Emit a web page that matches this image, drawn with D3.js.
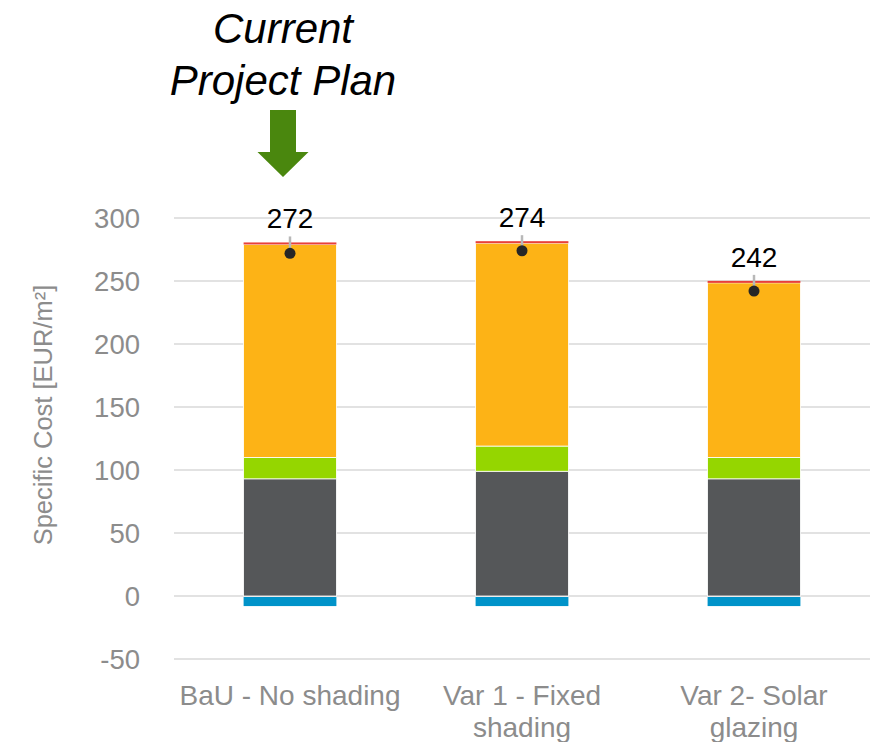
<!DOCTYPE html>
<html>
<head>
<meta charset="utf-8">
<script src="https://cdn.jsdelivr.net/npm/d3@7"></script>
<style>
  html, body { margin: 0; padding: 0; background: #ffffff; }
  svg { display: block; font-family: "Liberation Sans", Arial, sans-serif; }
</style>
</head>
<body>
<svg id="chart" width="880" height="742"></svg>
<script>
// Variants compared
const categories = [["BaU - No shading"], ["Var 1 - Fixed", "shading"], ["Var 2- Solar", "glazing"]];
const categoryKeys = ["BaU", "Var1", "Var2"];

// Cost components per variant [EUR/m²]
const negativeCost = [-8, -8, -8];          // blue, below zero
const baseCost = [93, 99, 93];              // dark grey
const shadingCost = [17, 20, 17];           // green
const energyCost = [169, 161, 138.5];       // orange
const otherCost = [1.6, 1.6, 1.6];          // thin red cap
const netCost = [272, 274, 242];            // net total (dot + label)

const yTicks = [-50, 0, 50, 100, 150, 200, 250, 300];

const seriesNames = ["base", "shading", "energy", "other"];
const seriesColors = { negative: "#0093c9", base: "#555759", shading: "#95d600", energy: "#fdb316", other: "#e8403a" };

const svg = d3.select("#chart");

const x = d3.scaleBand().domain(categoryKeys).range([174, 870]).paddingInner(0.6).paddingOuter(0.3);
const y = d3.scaleLinear().domain([-50, 300]).range([659, 218]);

// Gridlines
svg.append("g")
  .selectAll("line")
  .data(yTicks)
  .join("line")
  .attr("x1", 174).attr("x2", 870)
  .attr("y1", d => y(d)).attr("y2", d => y(d))
  .attr("stroke", "#d9d9d9").attr("stroke-width", 1.5);

// Y axis labels (plain hyphen for negatives)
const yAxis = svg.append("g").attr("transform", "translate(140,0)")
  .call(d3.axisLeft(y).tickValues(yTicks).tickSize(0).tickPadding(0).tickFormat(d => String(d)));
yAxis.select(".domain").remove();
yAxis.selectAll("text")
  .attr("font-size", 27.5).attr("fill", "#8c8c8c")
  .attr("font-family", "Liberation Sans, Arial, sans-serif")
  .attr("dy", "0.36em");

// Y axis title
svg.append("text")
  .attr("transform", "translate(52,415) rotate(-90)")
  .attr("text-anchor", "middle")
  .attr("font-size", 25.5).attr("fill", "#8c8c8c")
  .text("Specific Cost [EUR/m²]");

// Stacked bars
const rows = categoryKeys.map((k, i) => ({
  key: k,
  base: baseCost[i], shading: shadingCost[i], energy: energyCost[i], other: otherCost[i]
}));
const stacked = d3.stack().keys(seriesNames)(rows);

const barG = svg.append("g");
stacked.forEach(layer => {
  barG.append("g")
    .attr("fill", seriesColors[layer.key])
    .selectAll("rect")
    .data(layer)
    .join("rect")
    .attr("x", d => x(d.data.key))
    .attr("width", x.bandwidth())
    .attr("y", d => y(d[1]))
    .attr("height", d => y(d[0]) - y(d[1]))
    .attr("stroke", layer.key === "other" ? "none" : "#ffffff")
    .attr("stroke-width", 0.8);
});

// Negative component below zero
barG.append("g")
  .attr("fill", seriesColors.negative)
  .selectAll("rect")
  .data(categoryKeys)
  .join("rect")
  .attr("x", d => x(d))
  .attr("width", x.bandwidth())
  .attr("y", y(0) + 1)
  .attr("height", (d, i) => y(negativeCost[i]) - y(0) - 1);

// Net total: dot, leader line and label
const topOf = i => y(baseCost[i] + shadingCost[i] + energyCost[i] + otherCost[i]);
const netG = svg.append("g");
categoryKeys.forEach((k, i) => {
  const cx = x(k) + x.bandwidth() / 2;
  const labelY = topOf(i) - 14;
  netG.append("line")
    .attr("x1", cx).attr("x2", cx)
    .attr("y1", labelY + 8).attr("y2", y(netCost[i]))
    .attr("stroke", "#b8b8b8").attr("stroke-width", 2.5);
  netG.append("circle")
    .attr("cx", cx).attr("cy", y(netCost[i])).attr("r", 5.5)
    .attr("fill", "#262626");
  netG.append("text")
    .attr("x", cx).attr("y", labelY)
    .attr("text-anchor", "middle")
    .attr("font-size", 28).attr("fill", "#000000")
    .text(netCost[i]);
});

// Category labels
const xLab = svg.append("g");
categoryKeys.forEach((k, i) => {
  const cx = x(k) + x.bandwidth() / 2;
  const t = xLab.append("text")
    .attr("text-anchor", "middle")
    .attr("font-size", 28).attr("fill", "#8c8c8c");
  categories[i].forEach((line, j) => {
    t.append("tspan").attr("x", cx).attr("y", 705 + j * 32).text(line);
  });
});

// Annotation: current project plan
const annX = 283;
const ann = svg.append("g");
ann.append("text")
  .attr("x", annX).attr("y", 43)
  .attr("text-anchor", "middle").attr("font-style", "italic")
  .attr("font-size", 42).attr("fill", "#000000")
  .text("Current");
ann.append("text")
  .attr("x", annX).attr("y", 95)
  .attr("text-anchor", "middle").attr("font-style", "italic")
  .attr("font-size", 42).attr("fill", "#000000")
  .text("Project Plan");

const arrowPath = d3.path();
arrowPath.moveTo(annX - 13, 110);
arrowPath.lineTo(annX + 13, 110);
arrowPath.lineTo(annX + 13, 152);
arrowPath.lineTo(annX + 25.5, 152);
arrowPath.lineTo(annX, 177);
arrowPath.lineTo(annX - 25.5, 152);
arrowPath.lineTo(annX - 13, 152);
arrowPath.closePath();
ann.append("path").attr("d", arrowPath.toString()).attr("fill", "#4a870e");
</script>
</body>
</html>
